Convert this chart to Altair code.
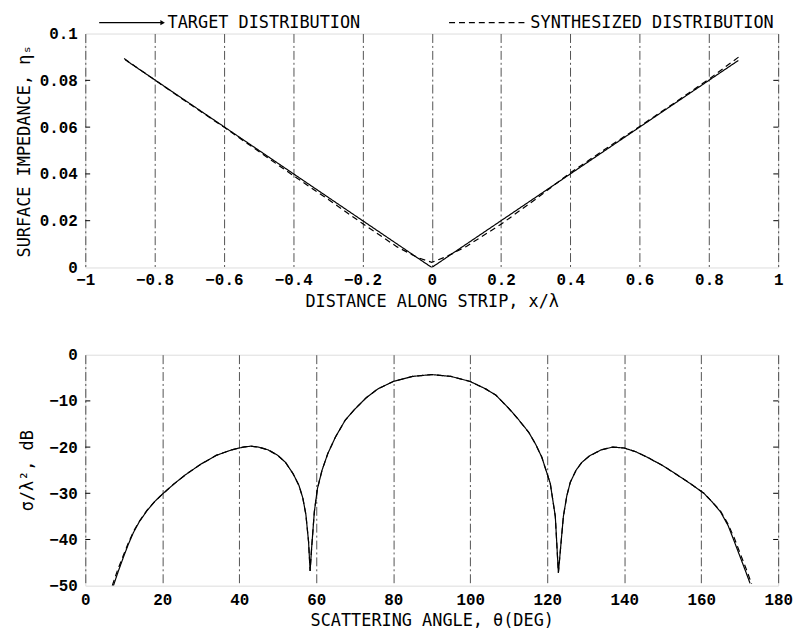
import altair as alt
import pandas as pd

# ---------------- data ----------------
series_names = ["TARGET DISTRIBUTION", "SYNTHESIZED DISTRIBUTION"]

# top panel: surface impedance vs distance along strip
top_x_target = [-0.885, 0.0, 0.885]
top_y_target = [0.0888, 0.0, 0.0885]
top_x_synth = [-0.888, -0.8, -0.7, -0.6, -0.5, -0.4, -0.3, -0.2, -0.1, -0.04, 0.0,
               0.04, 0.1, 0.2, 0.3, 0.4, 0.5, 0.6, 0.7, 0.8, 0.888]
top_y_synth = [0.0893, 0.0802, 0.0700, 0.0600, 0.0497, 0.0393, 0.0292, 0.0188, 0.0088, 0.0042, 0.0022,
               0.0045, 0.0090, 0.0185, 0.0292, 0.0405, 0.0505, 0.0603, 0.0703, 0.0805, 0.0902]

# bottom panel: scattering pattern (dB)
bot_theta_target = [7.3, 8.6, 10, 11.2, 12.5, 14, 16, 18, 20, 23, 26, 30, 34, 38, 41, 43, 45,
                    47.5, 50, 52, 54, 55.5, 56.5, 57.3, 58, 58.4, 58.8, 59.5, 60.3, 61.5, 63,
                    65, 67.5, 70, 73, 76, 80, 85, 90, 95, 100, 104, 106.6, 110, 112.5, 115.2,
                    117, 118.6, 120.8, 122.1, 122.9, 124.2, 125.1, 126, 127.5, 129, 131, 134,
                    137, 140, 143, 146, 150, 153, 157, 160.7, 163, 165, 167, 168.4, 170,
                    171.5, 172.7]
bot_db_target = [-50, -46.8, -43.6, -41.0, -38.5, -36.2, -33.8, -31.8, -30.2, -28.0, -26.0,
                 -23.7, -21.8, -20.6, -20.0, -19.8, -20.0, -20.6, -21.8, -23.3, -25.8, -28.3,
                 -31.0, -34.6, -40.5, -46.8, -41.8, -34.0, -29.0, -25.0, -21.4, -17.8, -14.2,
                 -11.8, -9.3, -7.4, -5.8, -4.7, -4.3, -4.7, -5.8, -7.4, -8.7, -11.6, -14.0,
                 -16.8, -19.4, -22.2, -27.9, -35.0, -47.2, -35.0, -30.5, -27.6, -25.0, -23.3,
                 -21.9, -20.6, -20.0, -20.2, -21.0, -22.2, -24.0, -25.6, -27.8, -30.0, -32.0,
                 -34.0, -37.0, -40.0, -43.5, -46.8, -49.5]
bot_theta_synth = [7.0, 8.4, 10, 11.2, 12.5, 14, 16, 18, 20, 23, 26, 30, 34, 38, 41, 43, 45,
                   47.5, 50, 52, 54, 55.5, 56.5, 57.3, 58, 58.4, 58.8, 59.5, 60.3, 61.5, 63,
                   65, 67.5, 70, 73, 76, 80, 85, 90, 95, 100, 104, 106.6, 110, 112.5, 115.2,
                   117, 118.6, 120.8, 122.1, 122.9, 124.2, 125.1, 126, 127.5, 129, 131, 134,
                   137, 140, 143, 146, 150, 153, 157, 160.7, 163, 165, 167, 168.6, 170.2,
                   171.8, 173.1]
bot_db_synth = [-50, -46.6, -43.2, -40.7, -38.3, -36.1, -33.7, -31.8, -30.2, -28.0, -26.0,
                -23.7, -21.8, -20.6, -20.0, -19.8, -20.0, -20.6, -21.8, -23.3, -25.8, -28.3,
                -31.0, -34.6, -40.5, -46.8, -41.8, -34.0, -29.0, -25.0, -21.4, -17.8, -14.2,
                -11.8, -9.3, -7.4, -5.8, -4.7, -4.3, -4.7, -5.8, -7.4, -8.7, -11.6, -14.0,
                -16.8, -19.4, -22.2, -27.9, -35.0, -47.2, -35.0, -30.5, -27.6, -25.0, -23.3,
                -21.9, -20.6, -20.0, -20.2, -21.0, -22.2, -24.0, -25.6, -27.8, -30.0, -32.0,
                -33.8, -36.7, -39.7, -43.2, -46.6, -49.6]

top_x_ticks = [-1, -0.8, -0.6, -0.4, -0.2, 0, 0.2, 0.4, 0.6, 0.8, 1]
top_y_ticks = [0, 0.02, 0.04, 0.06, 0.08, 0.1]
bot_x_ticks = [0, 20, 40, 60, 80, 100, 120, 140, 160, 180]
bot_y_ticks = [0, -10, -20, -30, -40, -50]

top_df = pd.concat([
    pd.DataFrame({"x": top_x_target, "y": top_y_target, "series": series_names[0]}),
    pd.DataFrame({"x": top_x_synth, "y": top_y_synth, "series": series_names[1]}),
])
bot_df = pd.concat([
    pd.DataFrame({"x": bot_theta_target, "y": bot_db_target, "series": series_names[0]}),
    pd.DataFrame({"x": bot_theta_synth, "y": bot_db_synth, "series": series_names[1]}),
])

# short inward tick marks on the left and right frame edges
top_tick_df = pd.concat([
    pd.DataFrame({"y": top_y_ticks[1:-1], "x": -1.0, "x2": -0.986}),
    pd.DataFrame({"y": top_y_ticks[1:-1], "x": 0.986, "x2": 1.0}),
])
bot_tick_df = pd.concat([
    pd.DataFrame({"y": bot_y_ticks[1:-1], "x": 0.0, "x2": 1.3}),
    pd.DataFrame({"y": bot_y_ticks[1:-1], "x": 178.7, "x2": 180.0}),
])

TITLE_FONT = "DejaVu Sans Mono, Liberation Mono, monospace"
LABEL_FONT = "Liberation Mono, DejaVu Sans Mono, monospace"
TITLE_SIZE = 17
W, H_TOP, H_BOT = 699, 236, 233

dash_scale = alt.Scale(domain=series_names, range=[[1, 0], [6, 4]])


def axis(values, title, fmt, grid, title_pad, label_pad):
    return alt.Axis(values=values, title=title, format=fmt, grid=grid,
                    gridColor="black", gridDash=[9, 3, 2, 3], gridWidth=0.8, gridOpacity=0.85,
                    domain=False, ticks=False, labelFont=LABEL_FONT, labelFontSize=16,
                    labelFontWeight="bold", labelColor="black", labelPadding=label_pad,
                    titleFont=TITLE_FONT, titleFontSize=TITLE_SIZE, titleFontWeight="normal",
                    titleColor="black", titlePadding=title_pad, labelFlush=False)


top_x_enc = alt.X("x:Q", scale=alt.Scale(domain=[-1, 1], nice=False),
                  axis=axis(top_x_ticks, "DISTANCE ALONG STRIP, x/λ", ".1~f", True, 6, 4))
top_y_enc = alt.Y("y:Q", scale=alt.Scale(domain=[0, 0.1], nice=False),
                  axis=axis(top_y_ticks, "SURFACE IMPEDANCE, ηₛ", ".2~f", False, 6, 8))

top_lines = alt.Chart(top_df).mark_line(color="black", strokeWidth=1.2, clip=True).encode(
    x=top_x_enc, y=top_y_enc,
    strokeDash=alt.StrokeDash("series:N", scale=dash_scale, legend=None),
    detail="series:N",
)
top_ticks = alt.Chart(top_tick_df).mark_rule(color="black", strokeWidth=1).encode(
    x="x:Q", x2="x2", y="y:Q")

dummy = pd.DataFrame({"k": [0]})
leg_y = -11
leg_rule1 = alt.Chart(dummy).mark_rule(color="black", strokeWidth=1.3).encode(
    x=alt.value(14), x2=alt.value(78), y=alt.value(leg_y))
leg_arrow = alt.Chart(dummy).mark_point(shape="triangle-right", filled=True, size=28,
                                        color="black", opacity=1).encode(
    x=alt.value(78), y=alt.value(leg_y))
leg_text1 = alt.Chart(dummy).mark_text(align="left", baseline="middle", font=TITLE_FONT,
                                       fontSize=TITLE_SIZE, color="black").encode(
    x=alt.value(83), y=alt.value(leg_y), text=alt.value(series_names[0]))
leg_rule2 = alt.Chart(dummy).mark_rule(color="black", strokeWidth=1.3, strokeDash=[6, 4]).encode(
    x=alt.value(367), x2=alt.value(444), y=alt.value(leg_y))
leg_text2 = alt.Chart(dummy).mark_text(align="left", baseline="middle", font=TITLE_FONT,
                                       fontSize=TITLE_SIZE, color="black").encode(
    x=alt.value(449), y=alt.value(leg_y), text=alt.value(series_names[1]))

top = alt.layer(top_lines, top_ticks, leg_rule1, leg_arrow, leg_text1, leg_rule2,
                leg_text2).properties(width=W, height=H_TOP)

bot_x_enc = alt.X("x:Q", scale=alt.Scale(domain=[0, 180], nice=False),
                  axis=axis(bot_x_ticks, "SCATTERING ANGLE, θ(DEG)", "d", True, 5, 6))
bot_y_enc = alt.Y("y:Q", scale=alt.Scale(domain=[-50, 0], nice=False),
                  axis=axis(bot_y_ticks, "σ/λ², dB", "d", False, 12, 8))

bot_lines = alt.Chart(bot_df).mark_line(color="black", strokeWidth=1.2, clip=True).encode(
    x=bot_x_enc, y=bot_y_enc,
    strokeDash=alt.StrokeDash("series:N", scale=dash_scale, legend=None),
    detail="series:N",
)
bot_ticks = alt.Chart(bot_tick_df).mark_rule(color="black", strokeWidth=1).encode(
    x="x:Q", x2="x2", y="y:Q")

bot = alt.layer(bot_lines, bot_ticks).properties(width=W, height=H_BOT)

chart = alt.vconcat(top, bot, spacing=36).properties(
    padding={"top": 2, "left": 7, "right": 5, "bottom": 5}
).configure_view(
    stroke="black", strokeWidth=1.2
).configure(background="white")

chart.save("out.html", embed_options={"renderer": "svg", "actions": False})
